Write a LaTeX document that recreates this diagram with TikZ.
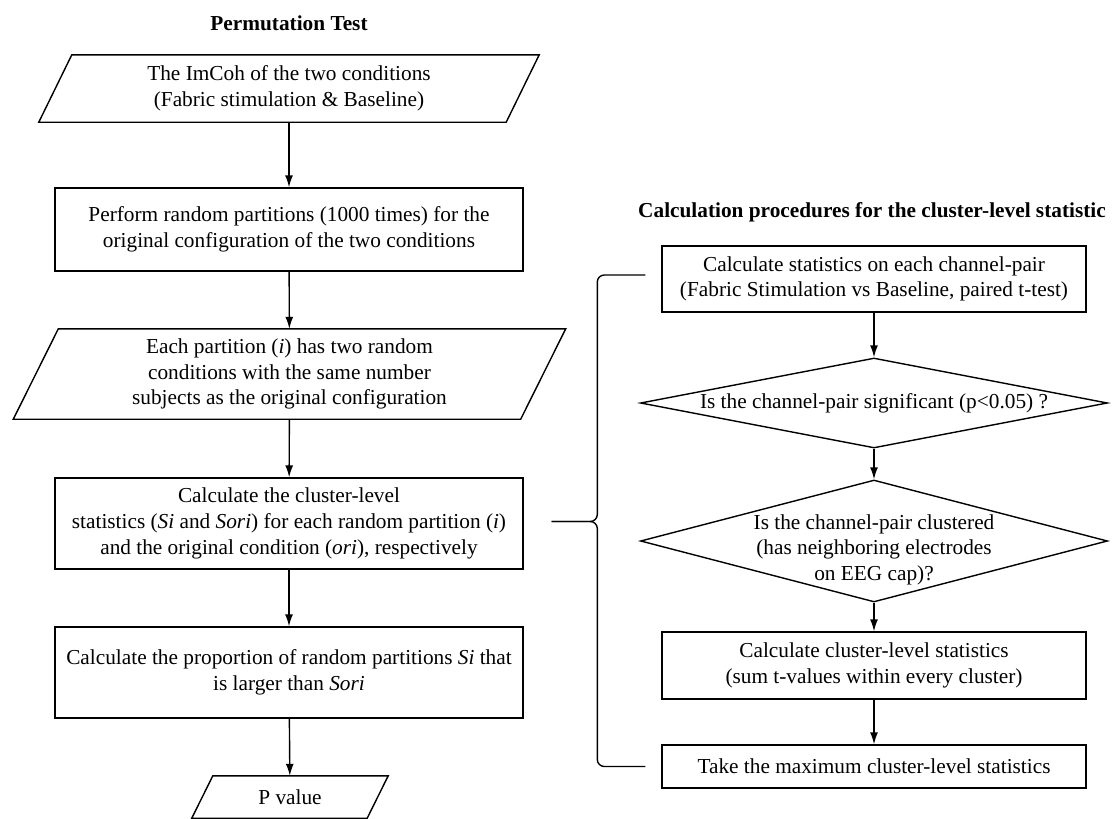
\documentclass[tikz,border=0pt]{standalone}
\usepackage{fontspec}
\setmainfont{Liberation Serif}
\usetikzlibrary{shapes.geometric, arrows.meta}

% outline of an input/output box: node name, half of the slant
\newcommand{\ioshape}[2]{%
	\draw[line width=1.4pt] ([xshift=#2]#1.north west) -- ([xshift=#2]#1.north east)
		-- ([xshift=-#2]#1.south east) -- ([xshift=-#2]#1.south west) -- cycle;}

\begin{document}
\begin{tikzpicture}[x=1pt, y=-1pt,
	every node/.style={align=center, font=\fontsize{21.3}{25.6}\selectfont},
	heading/.style={font=\fontsize{21.3}{25.6}\selectfont\bfseries},
	process/.style={draw, line width=1.4pt, rectangle, inner sep=0pt},
	io/.style={rectangle, inner sep=0pt},
	decision/.style={draw, line width=1.4pt, diamond, inner sep=0pt},
	arr/.style={line width=1.4pt, -{Latex[length=12pt, width=8pt]}}]

	\useasboundingbox (0,0) rectangle (1112,819);

% draw permutation test column
	\node[heading] (permtitle) at (289, 23) {Permutation Test};
	\node[io, minimum width=467pt, minimum height=67pt] (imcoh) at (289, 88.5)
		{The ImCoh of the two conditions\\(Fabric stimulation \& Baseline)};
	\ioshape{imcoh}{16.5pt}
	\node[process, minimum width=468pt, minimum height=83pt] (partition) at (289, 229.5)
		{Perform random partitions (1000 times) for the\\original configuration of the two conditions};
	\node[io, minimum width=507pt, minimum height=90pt] (randcond) at (289.5, 374)
		{Each partition (\textit{i}) has two random\\conditions with the same number\\subjects as the original configuration};
	\ioshape{randcond}{22.5pt}
	\node[process, minimum width=468pt, minimum height=91pt] (clusterstat) at (289, 523.5)
		{Calculate the cluster-level\\statistics (\textit{Si} and \textit{Sori}) for each random partition (\textit{i})\\and the original condition (\textit{ori}), respectively};
	\node[process, minimum width=468pt, minimum height=91pt] (proportion) at (289, 672.5)
		{Calculate the proportion of random partitions \textit{Si} that\\is larger than \textit{Sori}};
	\node[io, minimum width=175pt, minimum height=42pt] (pvalue) at (290, 797)
		{P value};
	\ioshape{pvalue}{10.5pt}

	\draw[arr] (imcoh) -- (partition);
	\draw[arr] (partition) -- (randcond);
	\draw[arr] (randcond) -- (clusterstat);
	\draw[arr] (clusterstat) -- (proportion);
	\draw[arr] (proportion) -- (pvalue);

% draw cluster-level statistic column
	\node[heading] (clustertitle) at (872, 212) {Calculation procedures for the cluster-level statistic};
	\node[process, minimum width=424pt, minimum height=66pt] (pairstat) at (874, 279)
		{Calculate statistics on each channel-pair\\(Fabric Stimulation vs Baseline, paired t-test)};
	\node[decision, minimum width=467pt, minimum height=90pt,
		label={center:{Is the channel-pair significant (p<0.05) ?}}] (signif) at (874, 403) {};
	\node[decision, minimum width=467pt, minimum height=122pt,
		label={[yshift=-8.7pt]center:{Is the channel-pair clustered\\(has neighboring electrodes\\on EEG cap)?}}] (clustered) at (874, 541) {};
	\node[process, minimum width=424pt, minimum height=67pt] (sumstat) at (874, 665.5)
		{Calculate cluster-level statistics\\(sum t-values within every cluster)};
	\node[process, minimum width=424pt, minimum height=43pt] (maxstat) at (874, 766.5)
		{Take the maximum cluster-level statistics};

	\draw[arr] (pairstat) -- (signif);
	\draw[arr] (signif) -- (clustered);
	\draw[arr] (clustered) -- (sumstat);
	\draw[arr] (sumstat) -- (maxstat);

% brace linking the two columns
	\draw[line width=1.4pt, rounded corners=7pt] ([xshift=-16pt, yshift=4pt]pairstat.west) -- ++(-48, 0)
		|- ([xshift=28pt, yshift=2pt]clusterstat.east);
	\draw[line width=1.4pt, rounded corners=7pt] ([xshift=-16pt]maxstat.west) -- ++(-48, 0)
		|- ([xshift=28pt, yshift=2pt]clusterstat.east);

\end{tikzpicture}
\end{document}
